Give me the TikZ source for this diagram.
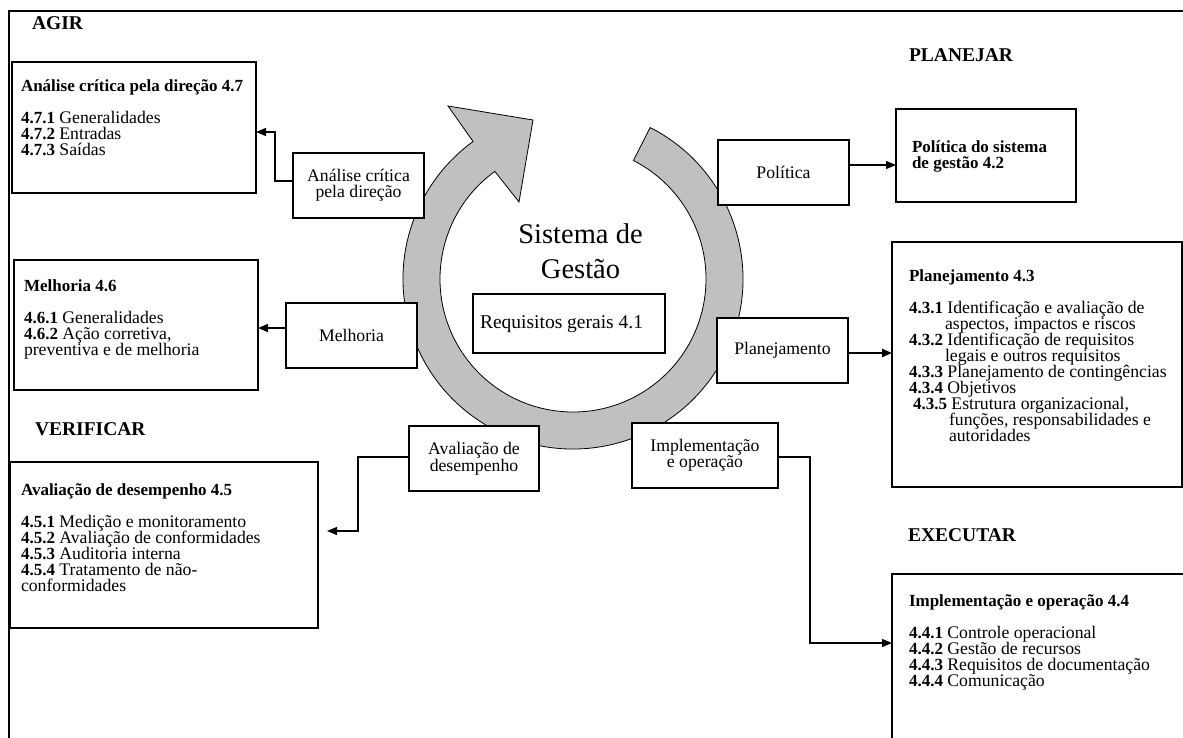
\documentclass[tikz,border=0pt]{standalone}
\usepackage{fontspec}
\setmainfont{Liberation Serif}
\usetikzlibrary{arrows.meta}
\definecolor{ringgray}{RGB}{192,192,192}
\newcommand\bodysize{\fontsize{17.7}{16}\selectfont}
% bold heading and item numbers, slightly narrower than the running text
\newcommand\nb[1]{{\fontsize{17}{16}\selectfont\bfseries #1}}
% left-aligned block of lines, fixed 16pt line pitch, baseline at first line
\newcommand\txtblock[1]{\vtop{\bodysize\baselineskip=16pt\lineskiplimit=-100pt\lineskip=0pt\halign{##\hfil\cr#1\crcr}}}
% centred block of lines with a given line pitch
\newcommand\ctrblock[2]{\vtop{\baselineskip=#1\lineskiplimit=-100pt\lineskip=0pt\halign{\hfil##\hfil\cr#2\crcr}}}
\begin{document}
\begin{tikzpicture}[x=1pt,y=-1pt,
  every node/.style={inner sep=0pt, outer sep=0pt},
  bigbox/.style={draw, line width=1.3pt, fill=white, anchor=north west},
  smallbox/.style={draw, line width=1.3pt, fill=white, font=\bodysize, align=center,
                   minimum width=131pt, minimum height=65pt},
  boxtext/.style={anchor=base west},
  phase/.style={anchor=base west, font=\fontsize{19.5}{22}\selectfont\bfseries},
  conn/.style={line width=1.2pt, -{Triangle[length=10pt,width=8pt]}}]
\useasboundingbox (0,0) rectangle (1183,737);
\clip (0,0) rectangle (1183,737);

% outer frame
\draw[line width=2pt] (9,760) -- (9,11) -- (1200,11);

% circular cycle arrow
\path[draw=black, line width=0.8pt, fill=ringgray]
  (573,279) ++(-63:170) arc[start angle=-63, end angle=234, radius=170]
  -- (448,106) -- (533,120) -- (519,202)
  -- ([shift={(234:133)}]573,279) arc[start angle=234, end angle=-63, radius=133]
  -- cycle;

\node[anchor=base, font=\fontsize{28.5}{35}\selectfont] (sg) at (580.5,243)
  {\ctrblock{35pt}{Sistema de\cr Gestão}};
\node[draw, line width=1.3pt, fill=white, minimum width=192pt, minimum height=59pt] (req) at (569,323.5) {};
\node[anchor=base west, font=\fontsize{19.5}{22}\selectfont] (reqt) at (480,328) {Requisitos gerais 4.1};

% phase labels
\node[phase] (agir) at (32,29) {AGIR};
\node[phase] (planejar) at (909,61) {PLANEJAR};
\node[phase] (verificar) at (35,435) {VERIFICAR};
\node[phase] (executar) at (908,541) {EXECUTAR};

% requirement boxes
\node[bigbox, minimum width=244pt, minimum height=131pt] (b47) at (12,62) {};
\node[boxtext] (t47) at (21,91.5) {\txtblock{\nb{Análise crítica pela direção 4.7}\cr\cr
  \nb{4.7.1} Generalidades\cr\nb{4.7.2} Entradas\cr\nb{4.7.3} Saídas}};

\node[bigbox, minimum width=244pt, minimum height=130pt] (b46) at (14,260) {};
\node[boxtext] (t46) at (24,291) {\txtblock{\nb{Melhoria 4.6}\cr\cr
  \nb{4.6.1} Generalidades\cr\nb{4.6.2} Ação corretiva,\cr preventiva e de melhoria}};

\node[bigbox, minimum width=308pt, minimum height=166pt] (b45) at (10,462) {};
\node[boxtext] (t45) at (21,495.5) {\txtblock{\nb{Avaliação de desempenho 4.5}\cr\cr
  \nb{4.5.1} Medição e monitoramento\cr\nb{4.5.2} Avaliação de conformidades\cr
  \nb{4.5.3} Auditoria interna\cr\nb{4.5.4} Tratamento de não-\cr conformidades}};

\node[bigbox, minimum width=180pt, minimum height=93pt] (b42) at (896,109) {};
\node[boxtext] (t42) at (912,152) {\txtblock{\nb{Política do sistema}\cr\nb{de gestão 4.2}}};

\node[bigbox, minimum width=290pt, minimum height=245pt] (b43) at (892,242) {};
\node[boxtext] (t43) at (909,281) {\txtblock{\nb{Planejamento 4.3}\cr\cr
  \nb{4.3.1} Identificação e avaliação de\cr
  \hskip36pt aspectos, impactos e riscos\cr
  \nb{4.3.2} Identificação de requisitos\cr
  \hskip36pt legais e outros requisitos\cr
  \nb{4.3.3} Planejamento de contingências\cr
  \nb{4.3.4} Objetivos\cr
  \hskip4pt\nb{4.3.5} Estrutura organizacional,\cr
  \hskip40pt funções, responsabilidades e\cr
  \hskip40pt autoridades}};

\node[bigbox, minimum width=320pt, minimum height=200pt] (b44) at (892,574) {};
\node[boxtext] (t44) at (909,606) {\txtblock{\nb{Implementação e operação 4.4}\cr\cr
  \nb{4.4.1} Controle operacional\cr\nb{4.4.2} Gestão de recursos\cr
  \nb{4.4.3} Requisitos de documentação\cr\nb{4.4.4} Comunicação}};

% process boxes on the cycle
\node[smallbox] (aca) at (358.5,185.5) {Análise crítica\\pela direção};
\node[smallbox] (mel) at (351.5,335.5) {Melhoria};
\node[smallbox, minimum width=130pt] (ava) at (474,458.5) {Avaliação de\\desempenho};
\node[smallbox, minimum width=146pt] (imp) at (705,455.5) {Implementação\\e operação};
\node[smallbox] (pol) at (783.5,172.5) {Política};
\node[smallbox] (pla) at (782.5,350.5) {Planejamento};

% connector end points
\coordinate (acaout) at ([yshift=4.5pt]aca.west);
\coordinate (b47in) at ([yshift=-4.5pt]b47.east);
\coordinate (melout) at ([yshift=7.5pt]mel.west);
\coordinate (avaout) at ([yshift=1.5pt]ava.west);
\coordinate (b45in) at ([yshift=14pt]b45.east);
\coordinate (impout) at ([yshift=-1.5pt]imp.east);
\coordinate (b44in) at ([yshift=-69pt]b44.north west);
\coordinate (polout) at ([yshift=7.5pt]pol.east);
\coordinate (plaout) at ([yshift=-2.5pt]pla.east);

% connectors
\draw[conn] (acaout) -- ++(-18,0) |- (b47in);
\draw[conn] (melout) -- (melout -| b46.east);
\draw[conn, shorten >=9pt] (avaout) -- ++(-51,0) |- (b45in);
\draw[conn] (impout) -- ++(32,0) |- (b44in);
\draw[conn] (polout) -- (polout -| b42.west);
\draw[conn, line width=2.2pt] (plaout) -- (plaout -| b43.west);
\end{tikzpicture}
\end{document}
